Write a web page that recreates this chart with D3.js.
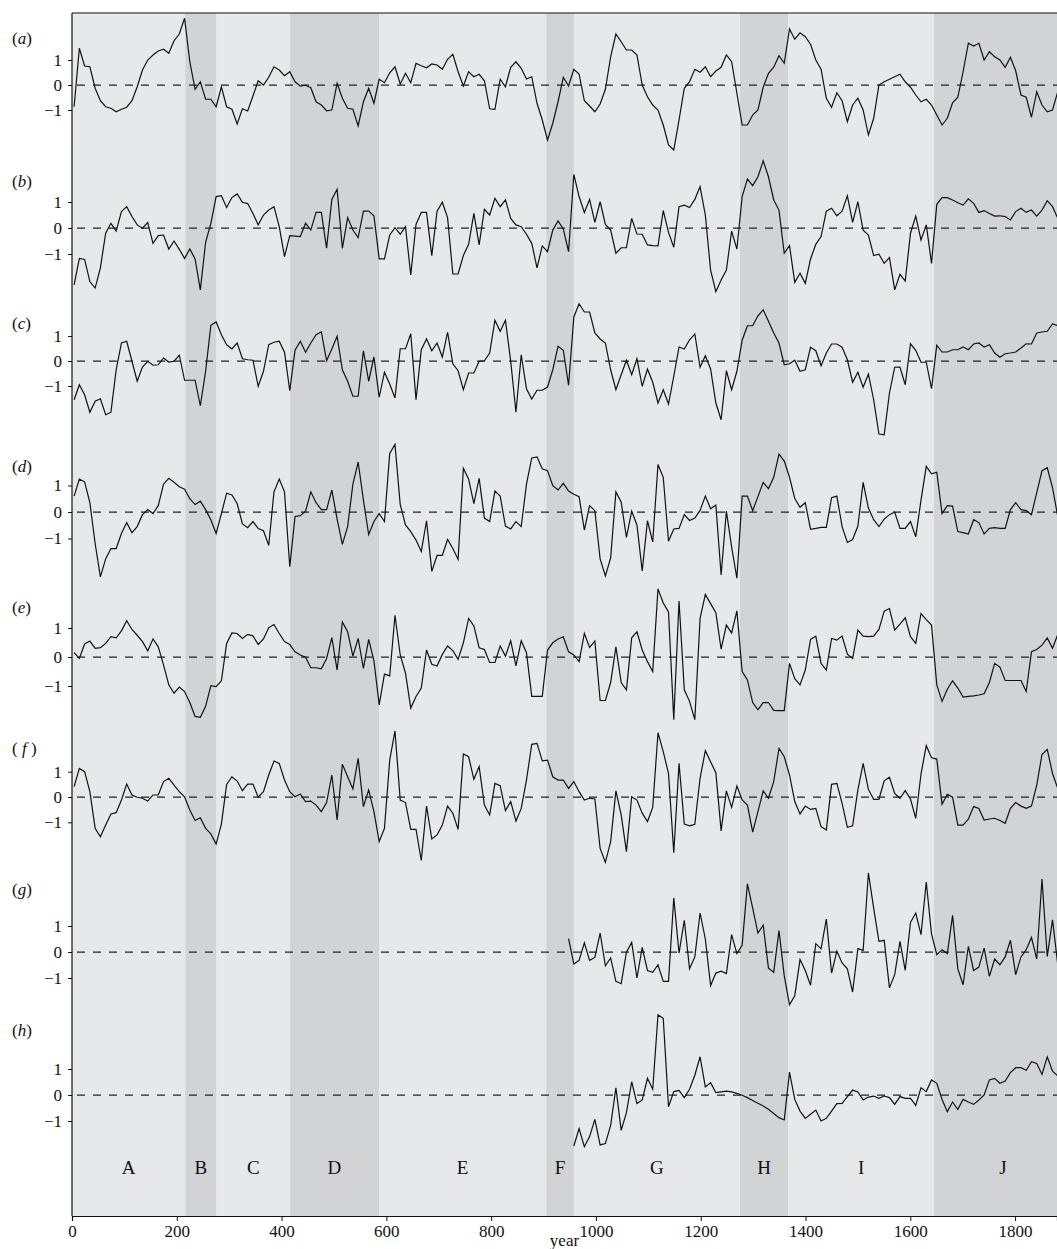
<!DOCTYPE html>
<html>
  <head>
    <meta charset="utf-8">
    <title>Proxy series</title>
    <script src="https://cdnjs.cloudflare.com/ajax/libs/d3/7.8.5/d3.min.js"></script>
    <style>
      body { margin: 0; background: #fff; }
    </style>
  </head>
  <body>

    <script>
      // sample i sits at FIRST_YEAR + STEP*i (roughly decadal)
      var FIRST_YEAR = 4, STEP = 10.04;

      var bands = [
        {label: "A", from: 0,    to: 216,  dark: false},
        {label: "B", from: 216,  to: 276,  dark: true},
        {label: "C", from: 276,  to: 416,  dark: false},
        {label: "D", from: 416,  to: 586,  dark: true},
        {label: "E", from: 586,  to: 905,  dark: false},
        {label: "F", from: 905,  to: 958,  dark: true},
        {label: "G", from: 958,  to: 1275, dark: false},
        {label: "H", from: 1275, to: 1367, dark: true},
        {label: "I", from: 1367, to: 1645, dark: false},
        {label: "J", from: 1645, to: 1910, dark: true}
      ];

      var xTicks = [0, 200, 400, 600, 800, 1000, 1200, 1400, 1600, 1800];
      var yTicks = [-1, 0, 1];

      var seriesA = [
        -0.87,1.47,0.76,0.73,-0.13,-0.63,-0.87,-0.93,-1.07,-0.97,
        -0.89,-0.63,-0.07,0.6,1.0,1.2,1.36,1.43,1.27,1.77,
        2.04,2.67,0.93,-0.17,0.13,-0.57,-0.57,-0.87,-0.07,-0.87,
        -0.97,-1.56,-0.95,-1.04,-0.44,0.17,0,0.31,0.73,0.6,
        0.37,0.53,0.13,-0.04,-0.01,-0.11,-0.67,-0.8,-1.03,-1.0,
        0.07,-0.53,-0.93,-0.97,-1.64,-0.67,-0.13,-0.73,0.23,0.09,
        0.49,0.73,0.04,0.47,0.09,0.87,0.77,0.69,0.84,0.8,
        0.63,1.03,1.23,0.53,-0.04,0.53,0.33,0.43,0.17,-0.95,
        -0.97,0.23,-0.07,0.71,0.93,0.67,0.24,0.33,-0.73,-1.4,
        -2.2,-1.53,-0.67,
        0.31,-0.04,0.63,0.44,-0.63,-0.84,-1.07,-0.76,-0.17,1.13,
        2.04,1.73,1.4,1.4,1.2,0,-0.47,-0.8,-1.0,-1.6,
        -2.4,-2.6,-1.4,-0.13,0.13,0.63,0.51,0.73,0.33,0.56,
        0.71,1.2,0.93,-0.33,-1.6,-1.6,-1.2,-1.0,-0.09,0.47,
        0.71,1.17,0.87,2.24,1.83,2.09,1.93,1.63,1.0,0.63,
        -0.53,-0.89,-0.31,-0.63,-1.47,-0.8,-0.53,-1.0,-2.0,-1.33,
        0,0.13,0.23,0.33,0.43,0.13,-0.09,-0.4,-0.67,-0.57,
        -0.8,-1.2,-1.6,-1.33,-0.71,-0.49,0.53,1.67,1.56,1.67,
        1.0,1.33,1.13,1.0,0.71,1.11,0.57,-0.4,-0.49,-1.29,
        -0.27,-0.8,-1.07,-1.0,-0.27
      ];

      var seriesB = [
        -2.19,-1.17,-1.21,-2.06,-2.31,-1.53,-0.2,0.18,-0.12,0.63,
        0.82,0.44,0.12,-0.01,0.21,-0.59,-0.29,-0.27,-0.81,-0.5,
        -0.82,-1.17,-0.81,-1.19,-2.38,-0.55,0.18,1.21,1.24,0.79,
        1.17,1.31,0.99,0.94,0.56,0.12,0.5,0.69,0.82,0.05,
        -1.1,-0.29,-0.31,-0.33,0.18,-0.08,0.6,0.6,-0.78,1.1,
        1.49,-0.78,0.4,-0.08,-0.37,0.65,0.65,0.47,-1.19,-1.19,
        -0.27,0.01,-0.24,0.05,-1.81,0.14,0.6,0.6,-1.06,0.65,
        0.99,0.4,-1.77,-1.77,-1.06,-0.63,0.56,-0.65,0.72,0.5,
        1.14,0.82,1.08,0.37,0.12,0.05,-0.24,-0.59,-1.53,-0.69,
        -0.91,-0.08,0.27,
        -0.04,-0.91,2.06,1.21,0.6,1.1,0.22,1.01,0.14,-0.08,
        -0.97,-0.76,-0.76,0.37,-0.23,-0.24,-0.65,-0.68,-0.69,0.67,
        -0.17,-0.74,0.82,0.88,0.79,1.1,1.59,0.5,-1.62,-2.45,
        -2.0,-1.62,-0.12,-0.81,1.21,1.88,1.63,1.97,2.58,1.97,
        1.08,0.69,-0.97,-0.68,-2.09,-1.74,-2.13,-1.19,-0.63,-0.33,
        0.65,0.76,0.47,0.65,1.24,0.22,1.01,-0.08,-0.27,-1.06,
        -1.01,-1.36,-1.14,-2.38,-1.78,-2.04,-0.2,0.46,-0.46,0.12,
        -1.36,0.91,1.17,1.17,1.08,0.97,0.88,1.12,0.95,0.6,
        0.67,0.56,0.46,0.47,0.44,0.31,0.63,0.76,0.6,0.69,
        0.46,0.69,1.05,0.82,0.37
      ];

      var seriesC = [
        -1.55,-0.95,-1.35,-2.05,-1.61,-1.51,-2.15,-2.05,-0.35,0.72,
        0.79,-0.01,-0.81,-0.24,-0.01,-0.17,-0.15,0.12,-0.04,-0.01,
        0.23,-0.77,-0.77,-0.77,-1.79,-0.41,1.43,1.56,1.05,0.65,
        0.48,0.72,0.09,0.05,0.03,-1.01,-0.41,0.65,0.75,0.79,
        0.35,-1.19,0.43,0.79,0.35,0.72,1.05,1.16,0.01,0.48,
        0.99,-0.35,-0.81,-1.41,-1.41,0.41,-0.81,0.16,-1.45,-0.45,
        -0.92,-1.48,0.49,0.49,1.09,-1.55,0.45,0.88,0.41,0.72,
        0.16,1.15,-0.11,-0.39,-1.15,-0.48,-0.48,-0.01,0.01,0.32,
        1.63,1.19,1.63,-0.01,-2.05,0.25,-1.11,-1.52,-1.17,-1.17,
        -1.04,-0.35,0.59,
        0.43,-0.97,1.76,2.29,1.96,1.96,1.12,0.88,0.72,-0.35,
        -1.15,-0.55,0.03,-0.55,0.09,-1.01,-0.32,-0.85,-1.68,-1.15,
        -1.72,-0.61,0.56,0.48,0.85,1.08,-0.25,0.21,-0.32,-1.68,
        -2.35,-0.39,-1.15,-0.41,0.83,1.41,1.41,1.81,2.05,1.59,
        1.12,0.72,-0.15,-0.11,0.03,-0.41,-0.35,0.55,0.41,-0.19,
        0.32,0.68,0.68,0.55,0.05,-0.85,-0.45,-1.05,-0.52,-1.55,
        -2.92,-2.95,-1.28,-0.25,-0.24,-0.95,0.69,0.43,-0.05,-0.05,
        -1.11,0.63,0.36,0.36,0.45,0.45,0.56,0.45,0.68,0.72,
        0.56,0.65,0.32,0.15,0.29,0.32,0.36,0.52,0.69,0.68,
        1.12,1.16,1.19,1.48,1.41
      ];

      var seriesD = [
        0.6,1.24,1.14,0.35,-1.19,-2.45,-1.77,-1.38,-1.38,-0.81,
        -0.4,-0.78,-0.55,-0.1,0.09,-0.06,0.24,1.05,1.27,1.12,
        0.95,0.86,0.5,0.28,0.41,0.09,-0.29,-0.81,-0.06,0.71,
        0.64,0.32,-0.45,-0.59,-0.36,-0.62,-0.71,-1.26,0.76,1.24,
        0.76,-2.06,-0.17,-0.14,0.03,0.76,0.35,0.09,0.09,0.83,
        -0.27,-1.22,-0.55,1.05,1.88,0.45,-0.85,-0.36,-0.06,-0.36,
        2.21,2.55,0.28,-0.49,-0.74,-1.06,-1.49,-0.33,-2.24,-1.64,
        -1.64,-1.04,-1.38,-1.79,1.65,1.24,0.32,1.27,-0.23,-0.36,
        0.79,0.6,-0.53,-0.64,-0.36,-0.55,1.05,2.04,2.08,1.63,
        1.56,0.99,0.83,
        1.08,0.79,0.67,0.58,-0.68,0.24,0.05,-1.77,-2.41,-1.73,
        0.76,0.38,-0.96,0.03,-0.49,-2.22,-0.33,-1.13,1.79,1.31,
        -1.1,-0.64,-0.62,-0.1,-0.32,-0.23,0.06,0.6,0.12,0.26,
        -2.38,0.03,-1.32,-2.5,0.6,0.6,0.05,0.58,1.12,0.88,
        1.31,2.18,1.92,1.31,0.51,0.18,0.35,-0.65,-0.62,-0.58,
        -0.58,0.54,0.6,-0.55,-1.15,-1.04,-0.53,1.12,0.15,-0.29,
        -0.55,-0.27,-0.1,0,-0.62,-0.62,-0.36,-0.94,0.45,1.72,
        1.44,1.5,-0.06,0.24,0.22,-0.74,-0.78,-0.83,-0.29,-0.4,
        -0.83,-0.62,-0.59,-0.62,-0.62,0.09,0.35,0.09,0.05,-0.1,
        0.73,1.56,1.67,0.92,-0.17
      ];

      var seriesE = [
        0.15,-0.05,0.45,0.55,0.3,0.32,0.47,0.7,0.66,0.9,
        1.25,0.95,0.75,0.53,0.21,0.62,0.35,-0.27,-0.96,-1.25,
        -1.04,-1.19,-1.57,-2.05,-2.08,-1.7,-0.99,-1.02,-0.82,0.47,
        0.83,0.81,0.64,0.78,0.73,0.43,0.62,1.01,1.12,0.81,
        0.53,0.43,0.18,0.07,-0.01,-0.37,-0.37,-0.41,-0.05,0.67,
        -0.45,1.21,0.87,0.03,0.64,-0.39,0.61,-0.13,-1.65,-0.59,
        -0.65,1.44,0.07,-0.56,-1.76,-1.36,-1.07,0.24,-0.25,-0.31,
        0.09,0.38,0.22,-0.08,0.49,1.33,1.07,0.32,0.26,-0.19,
        -0.19,0.38,0.03,0.56,-0.31,0.56,0.15,-1.36,-1.36,-1.36,
        0.24,0.49,0.62,
        0.7,0.18,0.07,-0.16,0.81,0.33,0.55,-1.5,-1.5,-0.88,
        0.35,-0.88,-1.13,0.66,0.87,0.24,-0.16,-0.5,2.35,1.86,
        1.55,-2.16,1.93,-1.13,-1.53,-2.16,1.33,2.16,1.84,1.53,
        0.27,1.1,0.83,1.59,-0.5,-0.79,-1.57,-1.82,-1.57,-1.57,
        -1.84,-1.85,-1.85,-0.22,-0.75,-0.96,-0.45,0.61,0.72,-0.22,
        -0.45,0.64,0.58,0.72,0.1,-0.05,0.93,0.72,0.7,0.72,
        0.95,1.58,1.67,0.93,1.13,1.35,0.7,0.47,1.5,1.29,
        1.1,-0.96,-1.53,-1.11,-0.82,-1.07,-1.38,-1.36,-1.34,-1.31,
        -1.27,-0.88,-0.22,-0.35,-0.81,-0.81,-0.81,-0.81,-1.19,0.18,
        0.26,0.41,0.66,0.3,0.78
      ];

      var seriesF = [
        0.41,1.13,1.0,0.21,-1.24,-1.57,-1.11,-0.67,-0.62,-0.12,
        0.51,0.08,-0.01,-0.05,-0.16,0.08,0.08,0.61,0.74,0.47,
        0.21,0.01,-0.51,-0.93,-0.82,-1.24,-1.46,-1.86,-1.07,0.5,
        0.8,0.63,0.25,0.51,0.51,-0.01,0.21,0.87,1.42,1.33,
        0.67,0.21,0.01,0.12,-0.18,-0.16,-0.32,-0.58,-0.22,0.87,
        -0.91,1.3,0.8,0.32,1.53,-0.38,0.28,-0.58,-1.76,-1.24,
        1.46,2.61,-0.12,-0.22,-1.28,-1.28,-2.51,-0.36,-1.66,-1.5,
        -1.11,-0.36,-0.64,-1.28,1.7,1.59,0.7,1.2,-0.32,-0.71,
        0.54,0.45,-0.54,-0.18,-0.95,-0.45,0.67,2.08,2.12,1.43,
        1.46,0.8,0.67,
        0.67,0.34,0.61,0.21,-0.12,-0.05,-0.08,-2.03,-2.58,-1.76,
        0.24,-0.71,-2.16,0.01,-0.12,-0.64,-0.97,-0.41,2.54,1.79,
        0.93,-2.2,1.33,-1.07,-1.14,-1.08,0.74,1.83,1.39,0.96,
        -1.34,0.24,-0.41,0.43,-0.12,-0.32,-1.39,-0.58,0.24,-0.05,
        0.61,1.92,1.59,0.87,-0.18,-0.67,-0.36,-0.49,-0.45,-1.17,
        -1.3,0.5,0.54,-0.25,-1.2,-1.14,0.28,1.33,0.3,-0.09,
        -0.09,0.64,0.78,0.14,-0.05,0.25,-0.08,-0.84,0.91,2.03,
        1.55,1.5,-0.29,0.11,-0.01,-1.11,-1.11,-0.88,-0.38,-0.45,
        -0.91,-0.87,-0.84,-0.93,-1.04,-0.45,-0.22,-0.36,-0.45,-0.36,
        0.47,1.68,1.88,0.93,0.34
      ];

      // (g) and (h) only begin around AD 950
      var seriesG = [
        0.51,-0.46,-0.32,0.35,-0.32,-0.21,0.73,-0.53,-0.23,-1.13,
        -1.22,-0.01,0.37,-1.0,0.18,-0.71,-0.78,-0.49,-1.13,-1.13,
        2.08,-0.04,1.22,-0.64,-0.19,1.5,0.5,-1.29,-0.81,-0.74,
        -0.83,0.67,-0.06,0.26,2.62,1.69,0.73,1.03,-0.62,-0.78,
        0.82,-0.91,-2.03,-1.68,-0.29,-0.71,-1.28,0.32,0.12,1.27,
        -0.81,0.03,-0.42,-0.65,-1.54,0.13,0.06,3.04,1.69,0.41,
        0.45,-1.38,-0.87,0.41,-0.71,1.14,1.5,0.67,2.69,0.69,
        -0.1,0.09,-0.06,1.41,-0.65,-1.26,0.22,-0.71,-0.58,0.15,
        -0.94,-0.27,-0.49,-0.19,0.45,-0.87,-0.19,0.09,0.56,-0.27,
        2.81,-0.17,1.24,-0.49
      ];

      var seriesH = [
        -1.96,-1.29,-1.99,-1.6,-0.94,-1.92,-1.87,-1.17,0.28,-1.36,
        -0.68,0.51,-0.33,-0.19,0.64,0.22,3.08,2.95,-0.45,0.13,
        0.18,-0.1,0.22,0.76,1.47,0.31,0.47,0.09,0.12,0.15,
        0.12,0.06,-0.01,-0.1,-0.21,-0.32,-0.42,-0.55,-0.71,-0.87,
        -0.96,0.88,-0.17,-0.62,-0.9,-0.74,-0.58,-1.0,-0.9,-0.62,
        -0.33,-0.32,-0.06,0.19,0.12,-0.19,-0.08,-0.04,-0.13,-0.04,
        -0.1,-0.36,-0.06,-0.13,-0.13,-0.4,0.28,0.13,0.58,0.45,
        -0.17,-0.64,-0.27,-0.55,-0.17,-0.27,-0.36,-0.19,0,0.58,
        0.64,0.45,0.54,0.86,1.05,1.05,0.95,1.28,1.21,0.79,
        1.47,0.92,0.73
      ];

      // panel layout: zero line position and pixels per unit
      var panels = [
        {name: "a", values: seriesA, startIndex: 0,  zero: 85,   unit: 25,   labelY: 44},
        {name: "b", values: seriesB, startIndex: 0,  zero: 228,  unit: 26,   labelY: 187},
        {name: "c", values: seriesC, startIndex: 0,  zero: 361,  unit: 25,   labelY: 329},
        {name: "d", values: seriesD, startIndex: 0,  zero: 512,  unit: 26.5, labelY: 472},
        {name: "e", values: seriesE, startIndex: 0,  zero: 657,  unit: 29,   labelY: 613},
        {name: "f", values: seriesF, startIndex: 0,  zero: 797,  unit: 25.3, labelY: 754},
        {name: "g", values: seriesG, startIndex: 94, zero: 952,  unit: 26,   labelY: 895},
        {name: "h", values: seriesH, startIndex: 95, zero: 1095, unit: 26,   labelY: 1036}
      ];

      var FONT = "Liberation Serif, Times New Roman, serif";
      var W = 1057, H = 1249;
      var plotLeft = 72, plotRight = 1057, plotTop = 13, plotBottom = 1216;
      var xMax = 1880;

      var svg = d3.select("body").append("svg")
        .attr("width", W)
        .attr("height", H)
        .attr("font-family", FONT);

      var x = d3.scaleLinear().domain([0, xMax]).range([plotLeft, plotRight]);

      // shaded periods (cut at the right edge of the plot)
      svg.append("g")
        .selectAll("rect").data(bands).enter().append("rect")
        .attr("x", function (d){ return x(d.from); })
        .attr("y", plotTop)
        .attr("width", function (d){ return x(Math.min(d.to, xMax)) - x(d.from); })
        .attr("height", plotBottom - plotTop)
        .attr("fill", function (d){ return d.dark ? "#d2d3d5" : "#e7e8ea"; });

      svg.append("g").selectAll("text").data(bands).enter().append("text")
        .attr("x", function (d){ return x(Math.min((d.from + d.to) / 2, 1777)); })
        .attr("y", 1174)
        .attr("text-anchor", "middle")
        .attr("font-family", FONT)
        .attr("font-size", 19)
        .attr("fill", "#111")
        .text(function (d){ return d.label; });

      var line = d3.line()
        .x(function (d){ return x(d.year); })
        .y(function (d){ return d.y; });

      panels.forEach(function (p){
        var y = d3.scaleLinear().domain([-1, 1]).range([p.zero + p.unit, p.zero - p.unit]);

        // the last sample sits right on the (cropped) right edge
        var pts = p.values.map(function (v, i){
          return {year: FIRST_YEAR + STEP * (p.startIndex + i), y: y(v)};
        });

        // dashed zero line
        svg.append("line")
          .attr("x1", plotLeft + 5).attr("x2", plotRight)
          .attr("y1", y(0)).attr("y2", y(0))
          .attr("stroke", "#222")
          .attr("stroke-width", 1.25)
          .attr("stroke-dasharray", "8,8");

        svg.append("path")
          .datum(pts)
          .attr("fill", "none")
          .attr("stroke", "#111")
          .attr("stroke-width", 1.2)
          .attr("d", line);

        var axis = d3.axisLeft(y)
          .tickValues(yTicks)
          .tickSize(4)
          .tickPadding(6)
          .tickFormat(function (d){ return d < 0 ? "\u2212" + Math.abs(d) : d; });

        var g = svg.append("g")
          .attr("transform", "translate(" + plotLeft + ",0)")
          .call(axis)
          .attr("font-family", FONT)
          .attr("font-size", 17);
        g.select(".domain").remove();
        g.selectAll("text").attr("fill", "#111");
        g.selectAll("line").attr("stroke", "#111");

        // panel letter, italic inside upright brackets
        var lab = svg.append("text")
          .attr("x", 12)
          .attr("y", p.labelY)
          .attr("font-family", FONT)
          .attr("font-size", 17)
          .attr("fill", "#111");
        lab.append("tspan").text(p.name === "f" ? "( " : "(");
        lab.append("tspan").attr("font-style", "italic").text(p.name);
        lab.append("tspan").text(p.name === "f" ? " )" : ")");
      });

      // frame
      svg.append("line")
        .attr("x1", plotLeft).attr("x2", plotRight)
        .attr("y1", plotTop).attr("y2", plotTop)
        .attr("stroke", "#111").attr("stroke-width", 1.2);
      svg.append("line")
        .attr("x1", plotLeft).attr("x2", plotLeft)
        .attr("y1", plotTop).attr("y2", plotBottom)
        .attr("stroke", "#111").attr("stroke-width", 1.2);

      var xAxis = d3.axisBottom(x)
        .tickValues(xTicks)
        .tickSize(5)
        .tickPadding(4)
        .tickFormat(d3.format("d"));

      var gx = svg.append("g")
        .attr("transform", "translate(0," + plotBottom + ")")
        .call(xAxis)
        .attr("font-family", FONT)
        .attr("font-size", 17);
      gx.select(".domain").attr("stroke", "#111").attr("stroke-width", 1.2);
      gx.selectAll("line").attr("stroke", "#111");
      gx.selectAll("text").attr("fill", "#111");

      svg.append("text")
        .attr("x", x(940))
        .attr("y", 1246)
        .attr("text-anchor", "middle")
        .attr("font-family", FONT)
        .attr("font-size", 17)
        .attr("fill", "#111")
        .text("year");
    </script>

  </body>
</html>
